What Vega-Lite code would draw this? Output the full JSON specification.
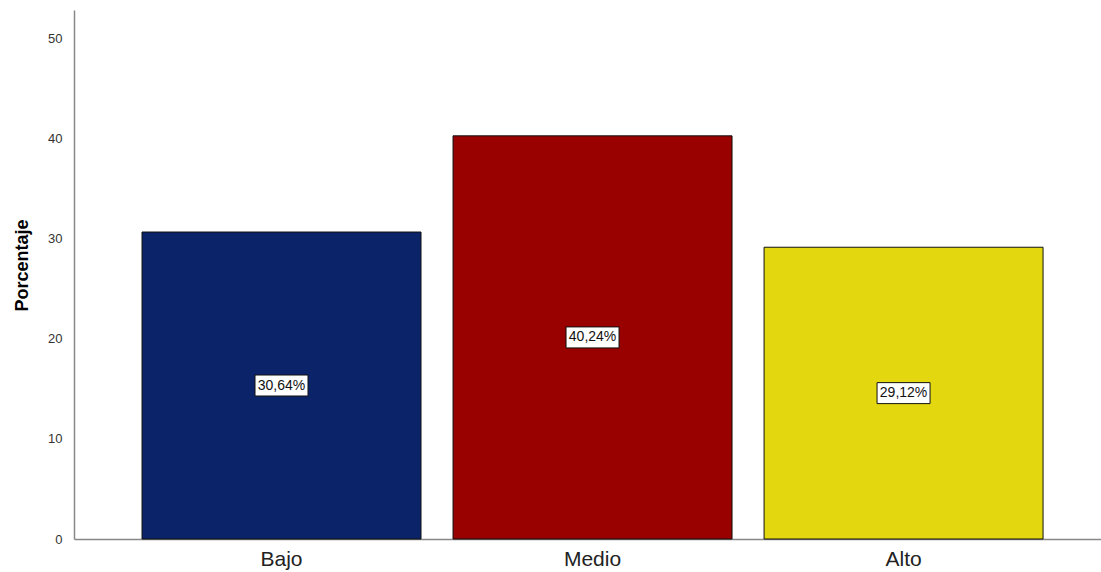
{
  "$schema": "https://vega.github.io/schema/vega-lite/v6.json",
  "autosize": "none",
  "width": 1027,
  "height": 529,
  "padding": {"left": 74, "top": 10, "right": 0, "bottom": 33},
  "background": "white",
  "config": {"view": {"stroke": null}, "font": "Liberation Sans"},
  "data": {"values": [
    {"nivel": "Bajo", "pct": 30.64, "label": "30,64%"},
    {"nivel": "Medio", "pct": 40.24, "label": "40,24%"},
    {"nivel": "Alto", "pct": 29.12, "label": "29,12%"}
  ]},
  "encoding": {
    "x": {"field": "nivel", "type": "nominal", "sort": ["Bajo", "Medio", "Alto"],
      "scale": {"paddingInner": 0.103, "paddingOuter": 0.2025, "align": 0.54},
      "axis": {"title": null, "labelAngle": 0, "ticks": false, "domainColor": "#888888", "domainWidth": 1.5, "labelFontSize": 21, "labelColor": "#222222", "labelPadding": 9, "labelFont": "Liberation Sans"}}
  },
  "layer": [
    {
      "mark": {"type": "bar", "stroke": "#111111", "strokeWidth": 1},
      "encoding": {
        "y": {"field": "pct", "type": "quantitative", "scale": {"domain": [0, 52.8], "nice": false},
          "axis": {"title": "Porcentaje", "titleFontSize": 18, "titleFontWeight": "bold", "titleColor": "#000000", "titlePadding": 16, "titleY": 255,
            "values": [0, 10, 20, 30, 40, 50], "ticks": false, "grid": false, "domainColor": "#888888", "domainWidth": 1.5,
            "labelFontSize": 13, "labelColor": "#333333", "labelPadding": 12}},
        "fill": {"field": "nivel", "type": "nominal", "scale": {"domain": ["Bajo", "Medio", "Alto"], "range": ["#0b2469", "#990000", "#e3d80f"]}, "legend": null}
      }
    },
    {
      "transform": [{"calculate": "datum.pct / 2", "as": "mid"}],
      "mark": {"type": "point", "shape": "M-1,-0.396L1,-0.396L1,0.396L-1,0.396Z", "size": 2809, "filled": true, "fill": "white", "stroke": "#111111", "strokeWidth": 1, "opacity": 1},
      "encoding": {
        "y": {"field": "mid", "type": "quantitative"}
      }
    },
    {
      "transform": [{"calculate": "datum.pct / 2", "as": "mid"}],
      "mark": {"type": "text", "fontSize": 14, "color": "#111111", "font": "Liberation Sans", "baseline": "middle", "align": "center"},
      "encoding": {
        "y": {"field": "mid", "type": "quantitative"},
        "text": {"field": "label"}
      }
    }
  ]
}
